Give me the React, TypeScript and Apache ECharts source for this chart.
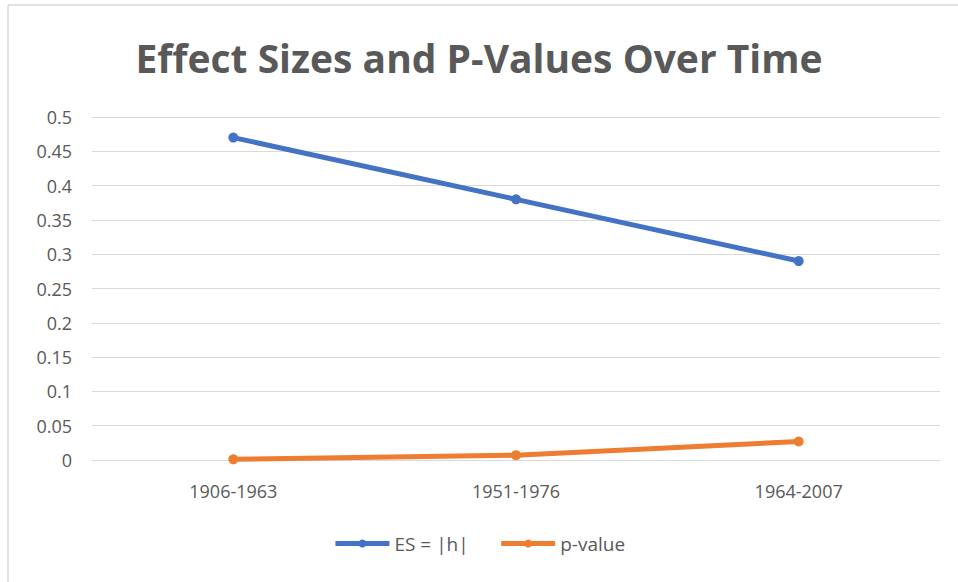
import React, { useEffect, useRef } from "react";
import * as echarts from "echarts";

const categories = ["1906-1963", "1951-1976", "1964-2007"];
const esValues = [0.47, 0.38, 0.29];
const pValues = [0.001, 0.007, 0.027];
const seriesNames = ["ES = |h|", "p-value"];
const titleText = "Effect Sizes and P-Values Over Time";

export default function App() {
  const ref = useRef<HTMLDivElement>(null);
  useEffect(() => {
    if (!ref.current) return;
    const chart = echarts.init(ref.current, null, { renderer: "svg" });
    const font = "Open Sans, Noto Sans, sans-serif";
    chart.setOption({
      animation: false,
      backgroundColor: "#ffffff",
      title: {
        text: titleText,
        left: "center",
        top: 33,
        textStyle: { fontFamily: font, fontSize: 39, fontWeight: "bold", color: "#595959" },
      },
      grid: { left: 92, right: 18, top: 117, bottom: 122 },
      legend: {
        bottom: 24,
        left: "center",
        itemWidth: 54,
        itemHeight: 10,
        itemGap: 30,
        lineStyle: { width: 5 },
        textStyle: { fontFamily: font, fontSize: 19, color: "#595959" },
        data: seriesNames,
      },
      xAxis: {
        type: "category",
        data: categories,
        axisLine: { show: true, lineStyle: { color: "#d9d9d9" } },
        axisTick: { show: false },
        axisLabel: { fontFamily: font, fontSize: 18, color: "#595959", margin: 22 },
      },
      yAxis: {
        type: "value",
        min: 0,
        max: 0.5,
        interval: 0.05,
        axisLine: { show: false },
        axisTick: { show: false },
        splitLine: { lineStyle: { color: "#d9d9d9" } },
        axisLabel: {
          fontFamily: font,
          fontSize: 18,
          color: "#595959",
          margin: 20,
          formatter: (v: number) => String(Math.round(v * 100) / 100),
        },
      },
      series: [
        {
          name: seriesNames[0],
          type: "line",
          data: esValues,
          symbol: "circle",
          symbolSize: 10,
          lineStyle: { width: 5, color: "#4472c4" },
          itemStyle: { color: "#4472c4" },
        },
        {
          name: seriesNames[1],
          type: "line",
          data: pValues,
          symbol: "circle",
          symbolSize: 10,
          lineStyle: { width: 5, color: "#ed7d31" },
          itemStyle: { color: "#ed7d31" },
        },
      ],
      graphic: [
        { type: "line", shape: { x1: 8, y1: 5, x2: 958, y2: 5 }, style: { stroke: "#d9d9d9", lineWidth: 1.5 } },
        { type: "line", shape: { x1: 8, y1: 5, x2: 8, y2: 582 }, style: { stroke: "#d9d9d9", lineWidth: 1.5 } },
      ],
    });
    return () => chart.dispose();
  }, []);
  return <div ref={ref} style={{ width: 958, height: 582, position: "absolute", left: 0, top: 0 }} />;
}
